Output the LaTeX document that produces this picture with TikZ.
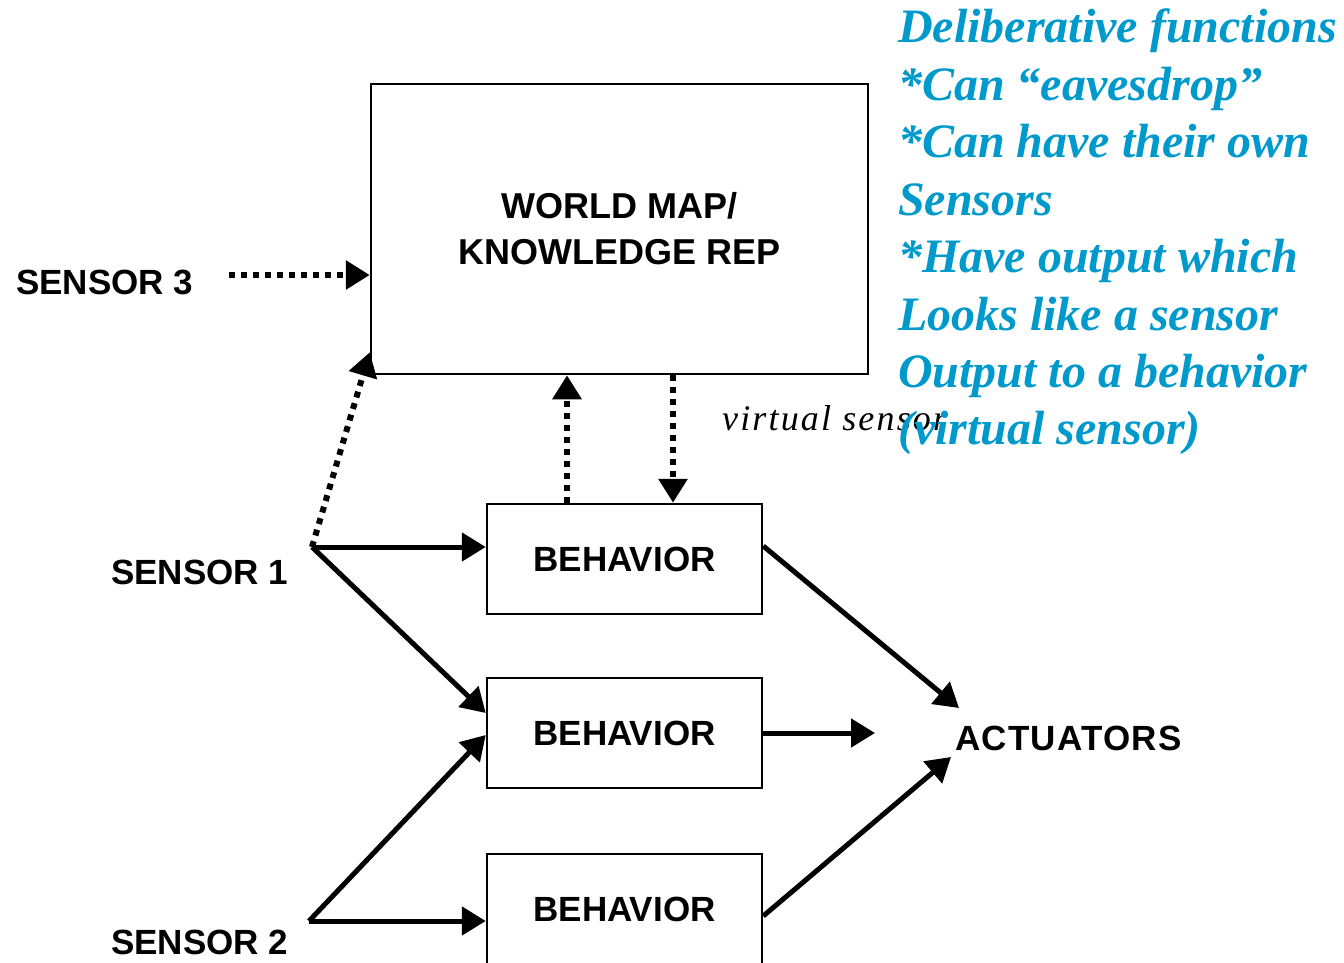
\documentclass[tikz,border=0pt]{standalone}
\usepackage{fontspec}
\setmainfont{Liberation Serif}
\setsansfont{Liberation Sans}
\newfontfamily\spacedserif[LetterSpace=6]{Liberation Serif}
\newfontfamily\spacedsans[LetterSpace=3.5]{Liberation Sans}
\usetikzlibrary{arrows.meta}
\definecolor{noteblue}{RGB}{0,153,204}
\begin{document}
\begin{tikzpicture}[x=1pt,y=-1pt,
  label font/.style={font=\sffamily\bfseries\fontsize{35}{46}\selectfont},
  box/.style={draw, line width=2.5pt, minimum width=275pt, minimum height=110pt,
    inner sep=0pt, label font},
  lbl/.style={label font, inner sep=0pt},
  tip/.style={-{Triangle[length=24pt,width=28pt]}},
  flow/.style={line width=5pt, tip},
  dotflow/.style={line width=6pt, dash pattern=on 6pt off 6pt, tip},
  note/.style={font=\rmfamily\bfseries\itshape\fontsize{48}{58}\selectfont,
    text=noteblue, anchor=base west, inner sep=0pt}]
\useasboundingbox (0,0) rectangle (1344,963);
\clip (0,0) rectangle (1344,963);

% knowledge store and behaviours
\node[box, minimum width=497pt, minimum height=290pt, align=center,
  font=\sffamily\bfseries\fontsize{36}{46}\selectfont]
  (wm) at (619.5,229) {WORLD MAP/\\KNOWLEDGE REP};
\node[box] (b1) at (624.5,559) {BEHAVIOR};
\node[box] (b2) at (624.5,733) {BEHAVIOR};
\node[box] (b3) at (624.5,909) {BEHAVIOR};

% sensor and actuator labels
\node[lbl, anchor=west] (s3) at (16,282) {SENSOR 3};
\node[lbl, anchor=west] (s1) at (111,572) {SENSOR 1};
\node[lbl, anchor=west] (s2) at (111,942) {SENSOR 2};
\node[lbl, anchor=west, font=\spacedsans\bfseries\fontsize{35}{46}\selectfont]
  (act) at (955,738) {ACTUATORS};

% branching points and free ends
\coordinate (s3dot) at (229,275);
\coordinate (j1) at (312,547);
\coordinate (j2) at (309,921);
\coordinate (up) at (567,0);
\coordinate (dn) at (673,0);
\coordinate (a1) at (959,708);
\coordinate (a2) at (875,733);
\coordinate (a3) at (951,757);

% sensor inputs
\draw[dotflow] (s3dot) -- (wm.west |- s3dot);
\draw[dotflow] (j1) -- ([yshift=23pt]wm.south west);
\draw[flow] (j1) -- (b1.west |- j1);
\draw[flow] (j1) -- ([yshift=20pt]b2.west);
\draw[flow] (j2) -- ([yshift=-2pt]b2.west);
\draw[flow] (j2) -- (b3.west |- j2);

% exchange with the world map
\draw[dotflow] (b1.north -| up) -- (wm.south -| up);
\draw[dotflow] (wm.south -| dn) -- (b1.north -| dn);

% behaviour outputs
\draw[flow] ([yshift=13pt]b1.east) -- (a1);
\draw[flow] (b2.east) -- (a2);
\draw[flow] ([yshift=-7pt]b3.east) -- (a3);

\node[font=\spacedserif\itshape\fontsize{36}{40}\selectfont, anchor=base west,
  inner sep=0pt] (vs) at (722,430) {virtual sensor};

% notes on deliberative functions
\foreach \t [count=\i from 0] in {Deliberative functions,
    *Can “eavesdrop”, *Can have their own, Sensors, *Have output which,
    Looks like a sensor, Output to a behavior, (virtual sensor)}
  \node[note] (note\i) at (898,43+57.4*\i) {\t};
\end{tikzpicture}
\end{document}
